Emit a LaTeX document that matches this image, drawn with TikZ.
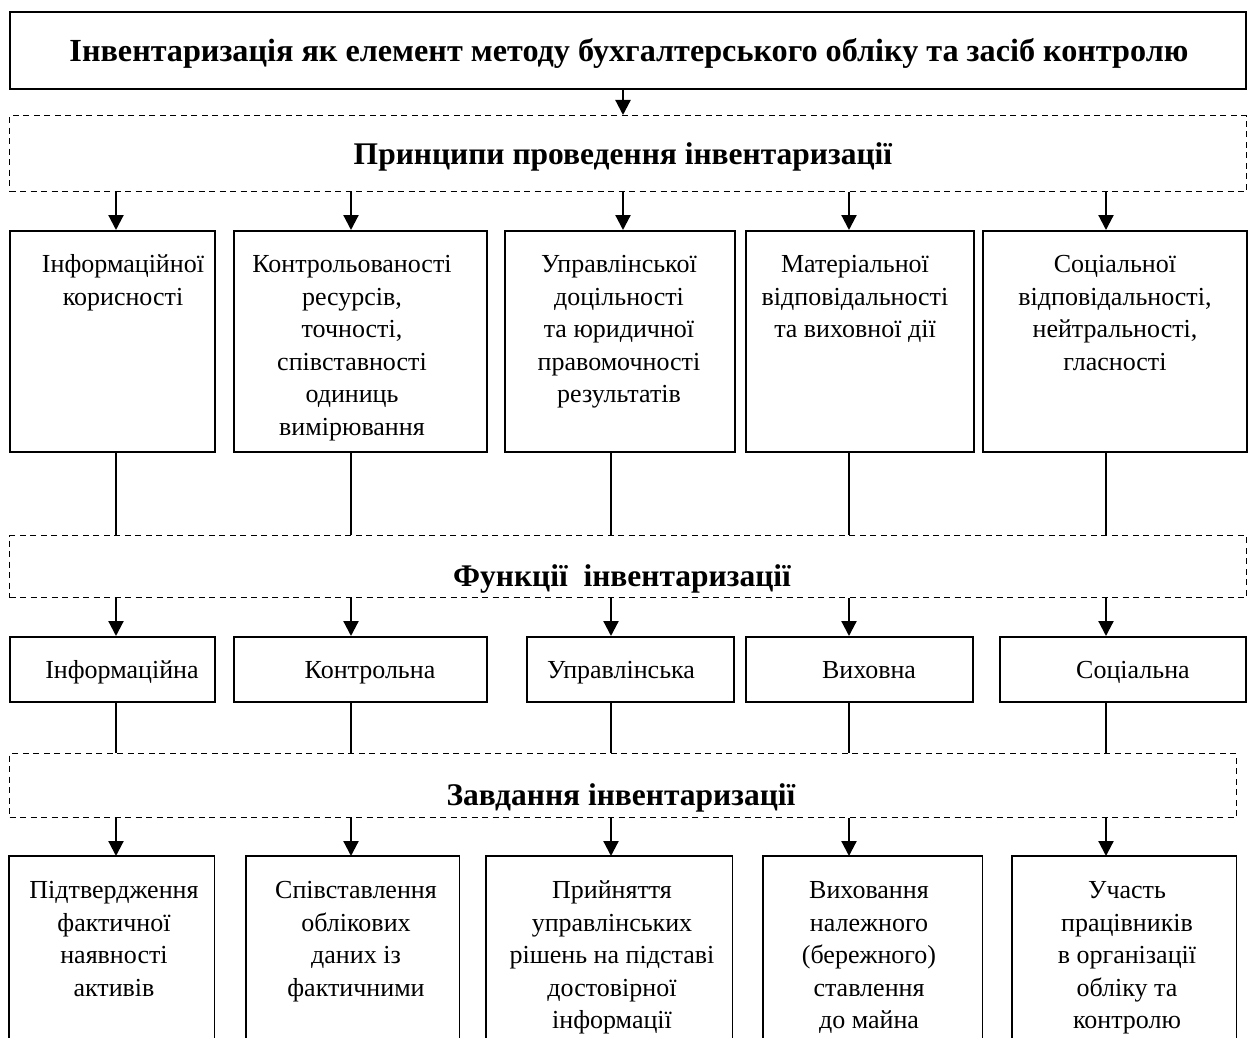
\documentclass[tikz,border=0pt]{standalone}
\usepackage{fontspec}
\setmainfont{Liberation Serif}
\usetikzlibrary{arrows.meta}

\tikzset{
  frame/.style={draw, line width=1.8pt, inner sep=0pt, anchor=north west},
  openframe/.style={inner sep=0pt, anchor=north west},
  group/.style={draw, dash pattern=on 6pt off 4.5pt, line width=1.4pt, inner sep=0pt, anchor=north west},
  body/.style={font=\fontsize{26}{32.5}\selectfont, align=center, inner sep=0pt, anchor=north},
  single/.style={font=\fontsize{26}{32.5}\selectfont, inner sep=0pt, anchor=base},
  head/.style={font=\fontsize{31.5}{40}\selectfont\bfseries, inner sep=0pt, anchor=base},
  titlefont/.style={font=\fontsize{32.2}{40}\selectfont\bfseries, inner sep=0pt, anchor=base},
  arr/.style={line width=2.2pt, -{Triangle[length=15pt,width=15pt]}},
  link/.style={line width=1.3pt},
}

\begin{document}
\begin{tikzpicture}[x=1pt, y=-1pt]
\useasboundingbox (0,0) rectangle (1251,1038);

% column positions of the connectors
\coordinate (k1) at (116,0);
\coordinate (k2) at (351,0);
\coordinate (k3) at (623,0);
\coordinate (k3b) at (611,0);
\coordinate (k4) at (849,0);
\coordinate (k5) at (1106,0);

% title
\node[frame, minimum width=1236, minimum height=77] (title) at (9,11) {};
\node[titlefont] (titletxt) at (629,62) {Інвентаризація як елемент методу бухгалтерського обліку та засіб контролю};

% principles
\node[group, minimum width=1237, minimum height=76] (d1) at (9,115) {};
\node[head] (d1txt) at (623,165) {Принципи проведення інвентаризації};

\node[frame, minimum width=205, minimum height=221] (p1) at (9,230) {};
\node[frame, minimum width=253, minimum height=221] (p2) at (233,230) {};
\node[frame, minimum width=230, minimum height=221] (p3) at (504,230) {};
\node[frame, minimum width=228, minimum height=221] (p4) at (745,230) {};
\node[frame, minimum width=264, minimum height=221] (p5) at (982,230) {};

\node[body] (p1txt) at (123,250) {\strut Інформаційної\\корисності};
\node[body] (p2txt) at (352,250) {\strut Контрольованості\\ресурсів,\\точності,\\співставності\\одиниць\\вимірювання};
\node[body] (p3txt) at (619,250) {\strut Управлінської\\доцільності\\та юридичної\\правомочності\\результатів};
\node[body] (p4txt) at (855,250) {\strut Матеріальної\\відповідальності\\та виховної дії};
\node[body] (p5txt) at (1115,250) {\strut Соціальної\\відповідальності,\\нейтральності,\\гласності};

% functions
\node[group, minimum width=1237, minimum height=62] (d2) at (9,535) {};
\node[head] (d2txt) at (622,586) {Функції\ \ інвентаризації};

\node[frame, minimum width=205, minimum height=65] (f1) at (9,636) {};
\node[frame, minimum width=253, minimum height=65] (f2) at (233,636) {};
\node[frame, minimum width=207, minimum height=65] (f3) at (526,636) {};
\node[frame, minimum width=227, minimum height=65] (f4) at (745,636) {};
\node[frame, minimum width=246, minimum height=65] (f5) at (999,636) {};

\node[single] (f1txt) at (122,678) {Інформаційна};
\node[single] (f2txt) at (370,678) {Контрольна};
\node[single] (f3txt) at (621,678) {Управлінська};
\node[single] (f4txt) at (869,678) {Виховна};
\node[single] (f5txt) at (1133,678) {Соціальна};

% tasks
\node[group, minimum width=1227, minimum height=64] (d3) at (9,753) {};
\node[head] (d3txt) at (621,805) {Завдання інвентаризації};

\node[openframe, minimum width=205, minimum height=190] (t1) at (9,856) {};
\node[openframe, minimum width=213, minimum height=190] (t2) at (246,856) {};
\node[openframe, minimum width=246, minimum height=190] (t3) at (486,856) {};
\node[openframe, minimum width=219, minimum height=190] (t4) at (763,856) {};
\node[openframe, minimum width=224, minimum height=190] (t5) at (1012,856) {};
\foreach \t in {t1,t2,t3,t4,t5}
  \draw[line width=1.8pt] (\t.south west) -- (\t.north west) -- (\t.north east) -- (\t.south east);

\node[body] (t1txt) at (114,876) {\strut Підтвердження\\фактичної\\наявності\\активів};
\node[body] (t2txt) at (356,876) {\strut Співставлення\\облікових\\даних із\\фактичними};
\node[body] (t3txt) at (612,876) {\strut Прийняття\\управлінських\\рішень на підставі\\достовірної\\інформації};
\node[body] (t4txt) at (869,876) {\strut Виховання\\належного\\(бережного)\\ставлення\\до майна};
\node[body] (t5txt) at (1127,876) {\strut Участь\\працівників\\в організації\\обліку та\\контролю};

% connectors
\draw[arr] (title.south -| k3) -- (d1.north -| k3);
\foreach \b/\k in {p1/k1, p2/k2, p3/k3, p4/k4, p5/k5}
  \draw[arr] (d1.south -| \k) -- (\b.north -| \k);
\foreach \b/\k in {p1/k1, p2/k2, p3/k3b, p4/k4, p5/k5}
  \draw[link] (\b.south -| \k) -- (d2.north -| \k);
\foreach \b/\k in {f1/k1, f2/k2, f3/k3b, f4/k4, f5/k5}
  \draw[arr] (d2.south -| \k) -- (\b.north -| \k);
\foreach \b/\k in {f1/k1, f2/k2, f3/k3b, f4/k4, f5/k5}
  \draw[link] (\b.south -| \k) -- (d3.north -| \k);
\foreach \b/\k in {t1/k1, t2/k2, t3/k3b, t4/k4, t5/k5}
  \draw[arr] (d3.south -| \k) -- (\b.north -| \k);
\end{tikzpicture}
\end{document}
